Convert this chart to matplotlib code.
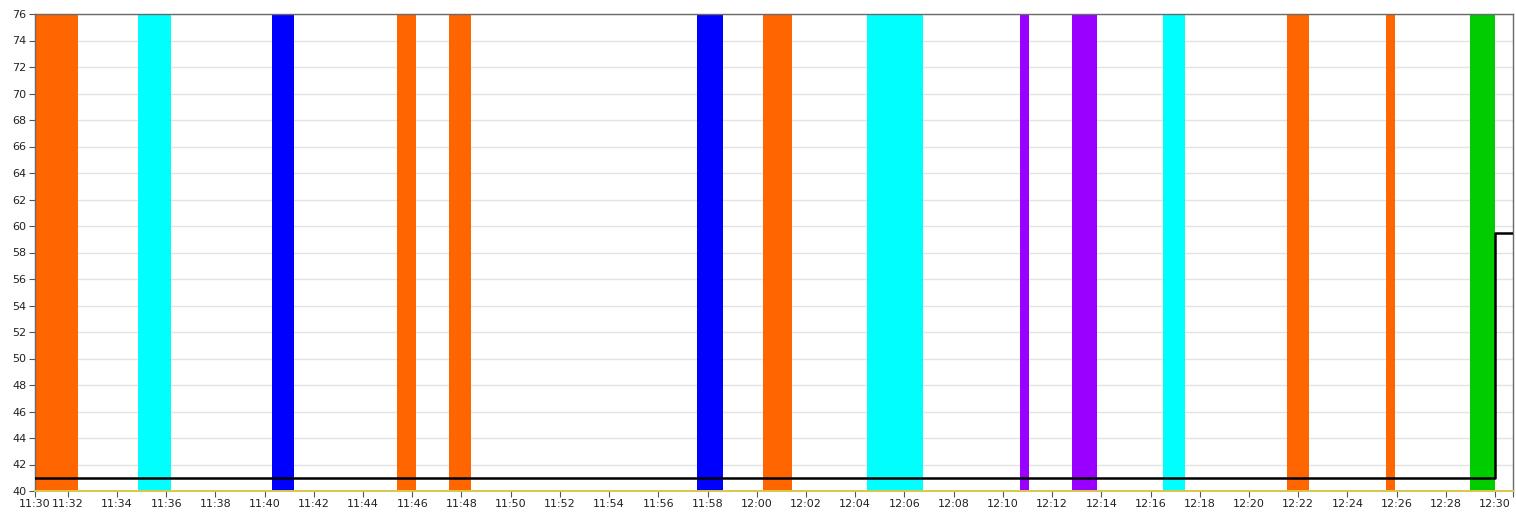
from matplotlib import pyplot as plt

# minutes after 11:00
x_min = 30.67
x_max = 90.73

band_start = [30.67, 34.87, 40.29, 45.39, 47.49, 57.56, 60.24, 64.47, 70.70, 72.80, 76.52, 81.53, 85.57, 88.99]
band_end = [32.43, 36.20, 41.21, 46.14, 48.39, 58.62, 61.42, 66.74, 71.05, 73.81, 77.41, 82.45, 85.92, 90.00]
band_color = ['#ff6600', '#00ffff', '#0000ff', '#ff6600', '#ff6600', '#0000ff', '#ff6600',
              '#00ffff', '#9900ff', '#9900ff', '#00ffff', '#ff6600', '#ff6600', '#00cc00']

line_x = [30.67, 90.0, 90.73]
line_y = [41, 59.5, 59.5]

tick_pos = [30.67] + list(range(32, 91, 2)) + [90.73]
tick_lbl = ['11:30'] + ['%d:%02d' % (11 + m // 60, m % 60) for m in range(32, 91, 2)] + ['']

y_ticks = list(range(40, 77, 2))

fig = plt.figure(figsize=(15.16, 5.18), dpi=100)
ax = fig.add_axes([35 / 1516, 1 - 491 / 518, 1478 / 1516, 477 / 518])

for s, e, c in zip(band_start, band_end, band_color):
    ax.axvspan(s, e, color=c, zorder=2, lw=0)

ax.plot(line_x, line_y, drawstyle='steps-post', color='black', lw=1.8, zorder=3)

ax.set_xlim(x_min, x_max)
ax.set_ylim(40, 76)
ax.set_xticks(tick_pos)
ax.set_xticklabels(tick_lbl)
ax.set_yticks(y_ticks)
ax.grid(axis='y', color='#e3e3e3', lw=1, zorder=1)
ax.set_axisbelow(True)
ax.tick_params(labelsize=8, labelcolor='#222222', color='#555555', length=4, width=0.8, pad=2)

for side in ['top', 'right', 'left']:
    ax.spines[side].set_color('#6a6a6a')
    ax.spines[side].set_linewidth(1)
ax.spines['bottom'].set_color('#d8c84a')
ax.spines['bottom'].set_linewidth(1.4)

fig.savefig('out.png', dpi=100)
